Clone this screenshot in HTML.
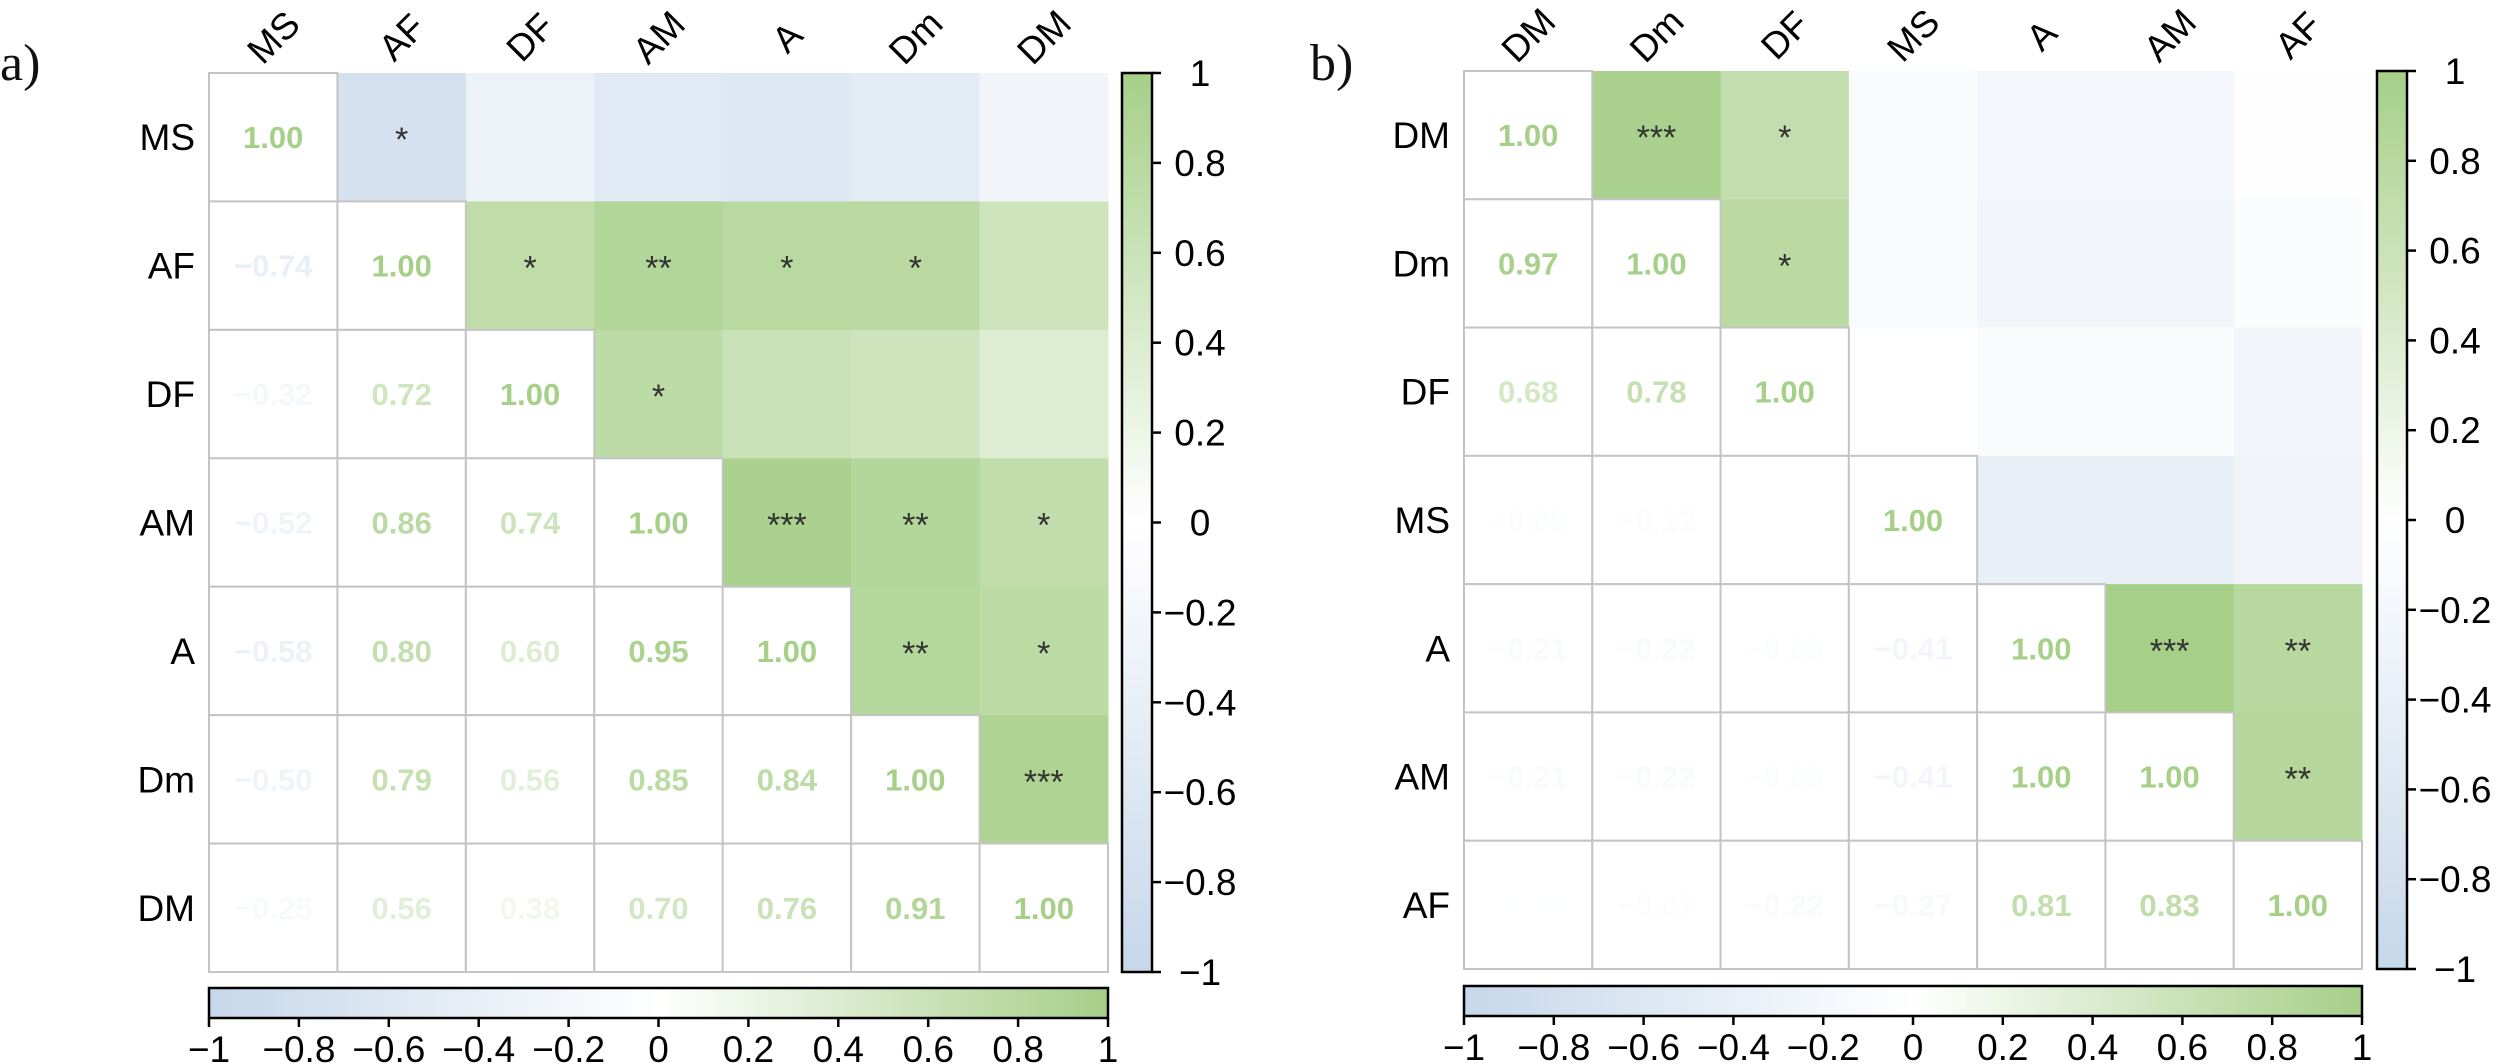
<!DOCTYPE html>
<html><head><meta charset="utf-8"><title>Correlation heatmaps</title>
<style>html,body{margin:0;padding:0;background:#fff;}svg{display:block;}</style>
</head><body>
<svg id="fig" width="2500" height="1064" viewBox="0 0 2500 1064" xmlns="http://www.w3.org/2000/svg" font-family="Liberation Sans, Arial, sans-serif">
<defs>
<linearGradient id="gv" x1="0" y1="1" x2="0" y2="0">
<stop offset="0" stop-color="#c6d7ea"/><stop offset="0.5" stop-color="#ffffff"/><stop offset="1" stop-color="#a6cf88"/></linearGradient>
<linearGradient id="gh" x1="0" y1="0" x2="1" y2="0">
<stop offset="0" stop-color="#c6d7ea"/><stop offset="0.5" stop-color="#ffffff"/><stop offset="1" stop-color="#a6cf88"/></linearGradient>
</defs>
</svg>
<script>
const labelsA = ["MS","AF","DF","AM","A","Dm","DM"];
const lowerA = [
 [],
 [-0.74],
 [-0.32,0.72],
 [-0.52,0.86,0.74],
 [-0.58,0.80,0.60,0.95],
 [-0.50,0.79,0.56,0.85,0.84],
 [-0.25,0.56,0.38,0.70,0.76,0.91]
];
const starsA = [
 ["","*","","","","",""],
 ["","","*","**","*","*",""],
 ["","","","*","","",""],
 ["","","","","***","**","*"],
 ["","","","","","**","*"],
 ["","","","","","","***"],
 ["","","","","","",""]
];
const labelsB = ["DM","Dm","DF","MS","A","AM","AF"];
const lowerB = [
 [],
 [0.97],
 [0.68,0.78],
 [-0.09,-0.12,0.00],
 [-0.21,-0.22,-0.09,-0.41],
 [-0.21,-0.22,-0.09,-0.41,1.00],
 [-0.02,-0.07,-0.22,-0.27,0.81,0.83]
];
const starsB = [
 ["","***","*","","","",""],
 ["","","*","","","",""],
 ["","","","","","",""],
 ["","","","","","",""],
 ["","","","","","***","**"],
 ["","","","","","","**"],
 ["","","","","","",""]
];
const cbTicks = [-1,-0.8,-0.6,-0.4,-0.2,0,0.2,0.4,0.6,0.8,1];

const NS = "http://www.w3.org/2000/svg";
const svg = document.getElementById("fig");
function mk(tag, attrs, parent){
  const e = document.createElementNS(NS, tag);
  for (const k in attrs) e.setAttribute(k, attrs[k]);
  (parent||svg).appendChild(e);
  return e;
}
const NEG=[198,215,234], POS=[166,207,136];
function cmap(v, k){
  const t = Math.min(1, Math.abs(v)) * (k===undefined?1:k);
  const c = v<0?NEG:POS;
  return "rgb("+c.map(x=>Math.round(255+(x-255)*t)).join(",")+")";
}
function fmtTick(v){ return v===0?"0":(v<0?"\u2212":"")+String(Math.abs(v)); }
function fmtVal(v){ return (v<0?"\u2212":"")+Math.abs(v).toFixed(2); }

function panel(opt){
  const {x0,y0,size,labels,lower,stars,cbx,tag,lx,ly} = opt;
  const n = labels.length, cs = size/n;
  const g = mk("g", {});
  
  
  const val = (i,j)=> i===j?1:(i>j?lower[i][j]:lower[j][i]);
  const xs = j=>x0+j*cs, ys = i=>y0+i*cs;
  // upper colored cells
  for (let i=0;i<n;i++) for (let j=i+1;j<n;j++){
    const r = mk("rect",{x:xs(j),y:ys(i),width:cs+0.5,height:cs+0.5,fill:cmap(val(i,j))},g);
    
    
    if (stars[i][j]){
      const t = mk("text",{x:xs(j)+cs/2,y:ys(i)+cs/2+14,"text-anchor":"middle","font-size":34,fill:"#333"},g);
      t.textContent = stars[i][j];
      
      
    }
  }
  // lower + diagonal white cells with numbers
  for (let i=0;i<n;i++) for (let j=0;j<=i;j++){
    const r = mk("rect",{x:xs(j),y:ys(i),width:cs,height:cs,fill:"#fff",stroke:"#c4c4c4","stroke-width":2},g);
    
    
    const v = val(i,j);
    const t = mk("text",{x:xs(j)+cs/2,y:ys(i)+cs/2+11,"text-anchor":"middle","font-size":31,"font-weight":"bold",fill:v<0?cmap(v,0.55):cmap(v,Math.min(1,v*1.05))},g);
    t.textContent = fmtVal(v);
    
    
  }
  // row labels
  for (let i=0;i<n;i++){
    const t = mk("text",{x:x0-14,y:ys(i)+cs/2+13,"text-anchor":"end","font-size":37,fill:"#000"},g);
    t.textContent = labels[i];
    
    
  }
  // column labels
  for (let j=0;j<n;j++){
    const cx = xs(j)+cs/2, cy = y0-36;
    const t = mk("text",{x:cx,y:cy+13,"text-anchor":"middle","font-size":37,fill:"#000",transform:"rotate(-45 "+cx+" "+cy+")"},g);
    t.textContent = labels[j];
    
    
  }
  // panel letter
  const pl = mk("text",{x:lx,y:ly,"font-family":"Liberation Serif, serif","font-size":52,fill:"#111"});
  pl.textContent = tag+")";
  
  
  // vertical colorbar
  const vb = mk("g",{});
  
  
  mk("rect",{x:cbx,y:y0,width:30,height:size,fill:"url(#gv)",stroke:"#000","stroke-width":2.5},vb);
  const vy = v=> y0+size*(1-(v+1)/2);
  cbTicks.forEach(v=>{
    mk("line",{x1:cbx+30,x2:cbx+39,y1:vy(v),y2:vy(v),stroke:"#000","stroke-width":2.5},vb);
    const t = mk("text",{x:cbx+78,y:vy(v)+13,"text-anchor":"middle","font-size":37,fill:"#000"},vb);
    t.textContent = fmtTick(v);
    
    
  });
  // horizontal colorbar
  const hb = mk("g",{});
  
  
  const hy = opt.hy;
  mk("rect",{x:x0,y:hy,width:size,height:30,fill:"url(#gh)",stroke:"#000","stroke-width":2.5},hb);
  const hx = v=> x0+size*(v+1)/2;
  cbTicks.forEach(v=>{
    mk("line",{x1:hx(v),x2:hx(v),y1:hy+30,y2:hy+39,stroke:"#000","stroke-width":2.5},hb);
    const t = mk("text",{x:hx(v),y:hy+74,"text-anchor":"middle","font-size":37,fill:"#000"},hb);
    t.textContent = fmtTick(v);
    
    
  });
}
panel({x0:209,y0:73,size:899,labels:labelsA,lower:lowerA,stars:starsA,cbx:1122,hy:988,tag:"a",lx:0,ly:80});
panel({x0:1464,y0:71,size:898,labels:labelsB,lower:lowerB,stars:starsB,cbx:2377,hy:986,tag:"b",lx:1310,ly:80});
</script>
</body></html>
